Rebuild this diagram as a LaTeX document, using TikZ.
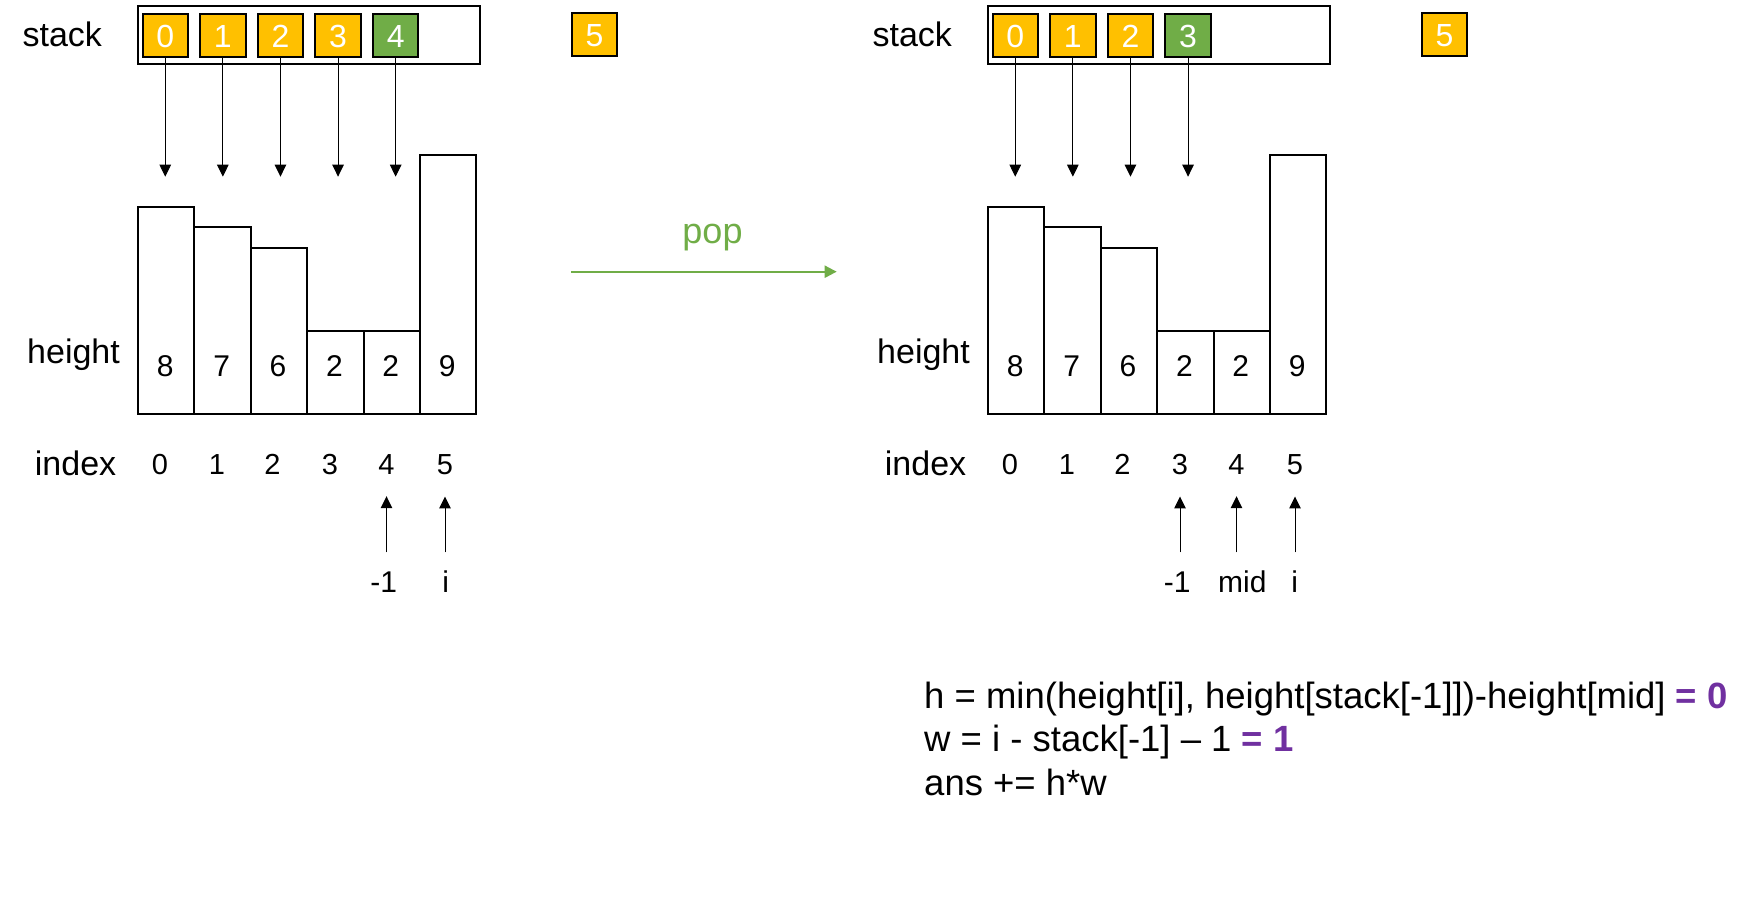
\documentclass[tikz,border=0pt]{standalone}
\usepackage{fontspec}
\setmainfont{Liberation Sans}
\usetikzlibrary{arrows.meta}
\definecolor{gold}{HTML}{FFC000}
\definecolor{grn}{HTML}{70AD47}
\definecolor{purp}{HTML}{7030A0}
\newcommand{\fs}[1]{\fontsize{#1}{#1}\selectfont}
\newcommand{\panelbase}[2]{%
 \begin{scope}[xshift=#2]
  \node[lbl] (#1stack) at (22.4,46.7) {stack};
  \node[outer] (#1box) at (136.7,4.7) {};
  \node[lbl] (#1height) at (27,363.3) {height};
  \node[lbl] (#1index) at (34.7,475.5) {index};
  \node[sbox, fill=gold, minimum width=45.7pt] (#1next) at (570.6,11.7) {5};
  \foreach \i/\hh/\v in {0/207.7/8,1/227.7/7,2/248.7/6,3/331.7/2,4/331.7/2,5/156.3/9} {
    \node[bar, minimum height={(414.7-\hh)*1pt}] (#1bar\i) at ({137+56.4*\i},414.7) {};
    \node[val] (#1val\i) at ({165.2+56.4*\i},376) {\v};
  }
  \foreach \i/\xx in {0/160,1/217,2/272.5,3/330,4/386.5,5/445} {
    \node[idx] (#1idx\i) at (\xx,474) {\i};
  }
 \end{scope}}
\begin{document}
\begin{tikzpicture}[x=1pt,y=-1pt,
 lbl/.style={font=\fs{34}, inner sep=0, anchor=base west},
 sbox/.style={draw, line width=2pt, minimum width=45.5pt, minimum height=43.5pt, inner sep=0, anchor=north west, text=white, font=\fs{32}, text height=24.7pt, text depth=0pt},
 outer/.style={draw, line width=2pt, inner sep=0, anchor=north west, minimum width=342.5pt, minimum height=58pt},
 bar/.style={draw, line width=2pt, inner sep=0, anchor=south west, minimum width=56.4pt},
 val/.style={font=\fs{30}, inner sep=0, anchor=base},
 idx/.style={font=\fs{29}, inner sep=0, anchor=base},
 ptr/.style={font=\fs{30}, inner sep=0, anchor=base, text height=21.5pt, text depth=0pt},
 arr/.style={-{Triangle[length=12pt,width=11.5pt]}, line width=1pt},
 uparr/.style={arr, shorten <=18.5pt, shorten >=22pt},
 formula/.style={font=\fs{36.5}, inner sep=0, anchor=base west}]
\useasboundingbox (0,0) rectangle (1750,900);

% ---------- left panel ----------
\panelbase{L}{0pt}
\foreach \i in {0,...,3} {
  \node[sbox, fill=gold] (Ls\i) at ({141.5+57.6*\i},12.5) {\i};
}
\node[sbox, fill=grn] (Ls4) at (371.9,12.5) {4};
\foreach \i in {0,...,4} {
  \draw[arr] (Ls\i.south) -- (Ls\i.south |- 0,176.7);
}
\node[ptr] (Lm1) at (383.7,592.5) {-1};
\node[ptr] (Li) at (445.7,592.5) {i};
\draw[uparr] (Lm1.north -| Lidx4) -- (Lidx4.south);
\draw[uparr] (Li.north -| Lidx5) -- (Lidx5.south);

% ---------- pop arrow ----------
\node[font=\fs{36}, text=grn, inner sep=0, anchor=base] (pop) at (712.5,243) {pop};
\coordinate (popS) at (571,271.7);
\coordinate (popE) at (836.7,271.7);
\draw[-{Triangle[length=12pt,width=12pt]}, line width=2pt, grn] (popS) -- (popE);

% ---------- right panel ----------
\panelbase{R}{850pt}
\begin{scope}[xshift=850pt]
\foreach \i in {0,...,2} {
  \node[sbox, fill=gold] (Rs\i) at ({141.5+57.6*\i},12.5) {\i};
}
\node[sbox, fill=grn] (Rs3) at (314.3,12.5) {3};
\foreach \i in {0,...,3} {
  \draw[arr] (Rs\i.south) -- (Rs\i.south |- 0,176.7);
}
\node[ptr] (Rm1) at (327.2,592.5) {-1};
\node[ptr] (Rmid) at (392.3,592.5) {mid};
\node[ptr] (Ri) at (444.7,592.5) {i};
\draw[uparr] (Rm1.north -| Ridx3) -- (Ridx3.south);
\draw[uparr] (Rmid.north -| Ridx4) -- (Ridx4.south);
\draw[uparr] (Ri.north -| Ridx5) -- (Ridx5.south);
\end{scope}

% ---------- formulas ----------
\node[formula] (f1) at (924,708.3) {h = min(height[i], height[stack[-1]])-height[mid] {\color{purp}\bfseries = 0}};
\node[formula] (f2) at (924,751.7) {w = i - stack[-1] – 1 {\color{purp}\bfseries = 1}};
\node[formula] (f3) at (924,795) {ans += h*w};
\end{tikzpicture}
\end{document}
